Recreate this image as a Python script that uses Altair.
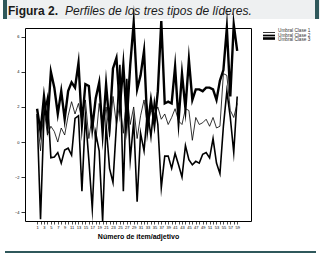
import altair as alt
import pandas as pd

items = list(range(1, 60))

clase1 = [1.5, -0.5, 2.0, 0.4, 0.9, 0.6, 0.0, 0.8, 0.4, 1.5,
          2.3, 1.6, 2.2, 1.2, 2.4, 0.2, 1.5, 0.0, 2.2, 0.8,
          2.0, 0.3, 2.6, 1.0, 2.2, 0.5, 2.8, 1.0, 2.0, 0.2,
          1.5, 2.4, 0.9, 1.8, 1.6, 2.0, 1.3, 1.6, 1.0, 1.4,
          1.9, 1.2, 1.0, 1.9, 1.8, 0.1, 1.4, 1.0, 1.1, 1.3,
          0.9, 1.4, 0.8, 0.9, 3.9, 3.8, 1.8, 1.4, 2.2]

clase2 = [1.6, -4.4, 1.5, 2.5, -0.9, -0.85, -0.6, -1.2, -0.45, -0.35,
          -0.75, 1.35, 1.5, -2.8, 1.5, -1.0, -3.8, 0.5, -0.5, -4.5,
          1.0, -1.5, -2.3, 1.0, 4.4, -2.8, 3.6, -1.0, 1.2, -3.4,
          0.5, -0.5, 1.8, 0.3, 2.3, 1.0, -2.6, -0.8, -0.8, -1.5,
          -0.65, -1.3, -2.0, -0.2, -1.0, -1.3, -1.1, -1.2, -0.7, -0.6,
          -0.9, 0.2, -1.2, -1.8, 0.9, 2.9, 1.4, -0.6, 2.6]

clase3 = [1.9, 0.6, 2.6, 1.0, 4.0, 3.1, 1.6, 2.9, 1.3, 2.9,
          3.4, 3.1, 4.5, 1.0, 3.3, 3.2, 0.8, 2.5, 3.4, 0.5,
          3.3, 1.0, 4.2, 4.8, 2.0, 4.4, 1.2, 4.4, 6.8, 3.0,
          3.8, 5.2, 0.8, 2.4, 1.0, 2.9, 6.9, 2.2, 2.3, 2.2,
          4.3, 1.2, 3.9, 1.9, 4.7, 2.4, 3.0, 3.0, 2.9, 3.1,
          3.1, 3.0, 2.4, 3.5, 4.1, 6.5, 2.6, 6.7, 5.2]

series_names = ["Umbral Clase 1", "Umbral Clase 2", "Umbral Clase 3"]
y_ticks = [-4, -2, 0, 2, 4, 6]

title_bold = "Figura 2."
title_italic = "Perfiles de los tres tipos de líderes."
x_title = "Número de ítem/adjetivo"

# styles (kept apart from the data)
stroke_widths = [0.8, 2.4, 1.9]
legend_widths = [0.8, 2.6, 2.0]
teal = "#2f585b"
band = "#eef0f1"
FONT = "Liberation Sans"

rows = []
for name, vals in zip(series_names, [clase1, clase2, clase3]):
    for i, v in zip(items, vals):
        rows.append({"item": i, "valor": v, "serie": name})
df = pd.DataFrame(rows)
leg_df = pd.DataFrame({"serie": series_names})
one = pd.DataFrame({"k": [0]})

sw = alt.StrokeWidth("serie:N", scale=alt.Scale(domain=series_names, range=stroke_widths), legend=None)

lines = alt.Chart(df).mark_line(color="black", strokeJoin="miter", strokeMiterLimit=20).encode(
    x=alt.X("item:Q",
            scale=alt.Scale(domain=[-2.5, 63], nice=False, zero=False),
            axis=alt.Axis(values=items,
                          labelExpr="datum.value % 2 == 1 ? datum.label : ''",
                          title=x_title, titleFont=FONT, titleFontSize=7, titleFontWeight="bold",
                          titleColor="black", titlePadding=3,
                          labelFont=FONT, labelFontSize=4, labelColor="black", labelPadding=1,
                          labelOverlap=False, labelFlush=False,
                          tickSize=3, tickColor="black", tickWidth=0.7,
                          domain=False, grid=False)),
    y=alt.Y("valor:Q",
            scale=alt.Scale(domain=[-4.5, 6.5], nice=False, zero=False),
            axis=alt.Axis(values=y_ticks, title=None,
                          labelFont=FONT, labelFontSize=4, labelColor="black", labelPadding=2,
                          tickSize=4, tickColor="black", tickWidth=0.8,
                          domain=False, grid=False)),
    detail="serie:N",
    strokeWidth=sw,
    order="item:Q",
)

leg_y = alt.Y("serie:N", scale=alt.Scale(domain=series_names, range=[3, 12], padding=0), axis=None)
leg_rules = alt.Chart(leg_df).mark_rule(color="black").encode(
    x=alt.value(238), x2=alt.value(250), y=leg_y,
    strokeWidth=alt.StrokeWidth("serie:N", scale=alt.Scale(domain=series_names, range=legend_widths),
                                legend=None))
leg_text = alt.Chart(leg_df).mark_text(align="left", baseline="middle", font=FONT,
                                       fontSize=4.7, color="#333333").encode(
    x=alt.value(253), y=leg_y, text="serie:N")

band_rect = alt.Chart(one).mark_rect(color=band).encode(
    x=alt.value(-22), x2=alt.value(295), y=alt.value(-28), y2=alt.value(-9))
left_bar = alt.Chart(one).mark_rect(color=teal).encode(
    x=alt.value(-22), x2=alt.value(-18), y=alt.value(-28), y2=alt.value(-9))
right_bar = alt.Chart(one).mark_rect(color=teal).encode(
    x=alt.value(290), x2=alt.value(294), y=alt.value(-28), y2=alt.value(-9))
bottom_line = alt.Chart(one).mark_rect(color=teal).encode(
    x=alt.value(-20), x2=alt.value(291), y=alt.value(223), y2=alt.value(225))

t1 = alt.Chart(one).mark_text(align="left", baseline="alphabetic", font=FONT, fontSize=12,
                              fontWeight="bold", color="#1a1a1a").encode(
    x=alt.value(-17), y=alt.value(-13), text=alt.value(title_bold))
t2 = alt.Chart(one).mark_text(align="left", baseline="alphabetic", font=FONT, fontSize=12,
                              fontStyle="italic", color="#1a1a1a").encode(
    x=alt.value(40), y=alt.value(-13), text=alt.value(title_italic))

chart = alt.layer(
    band_rect, left_bar, right_bar, bottom_line, t1, t2, lines, leg_rules, leg_text
).resolve_scale(y="independent", strokeWidth="independent").properties(
    width=226, height=193,
    autosize=alt.AutoSizeParams(type="none"),
    padding={"left": 25, "top": 28, "right": 73, "bottom": 41},
    background="white",
).configure_view(stroke="black", strokeWidth=1)

chart.save("out.html", embed_options={"renderer": "svg", "actions": False})
